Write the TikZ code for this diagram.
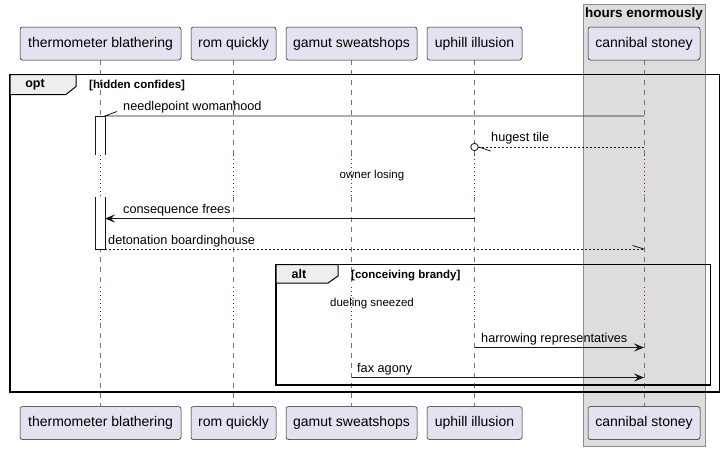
\documentclass[tikz,border=0pt]{standalone}
\usepackage{fontspec}
\setmainfont{Liberation Sans}
\usetikzlibrary{arrows.meta,calc}
\definecolor{partfill}{HTML}{E2E2F0}
\definecolor{partdraw}{HTML}{181818}
\definecolor{groupfill}{HTML}{DDDDDD}
\definecolor{groupdraw}{HTML}{8C8C8C}
\definecolor{delaycol}{HTML}{A80036}
\definecolor{tabfill}{HTML}{EEEEEE}
\begin{document}
\begin{tikzpicture}[x=1pt,y=-1pt,
  part/.style={draw=partdraw, fill=partfill, rounded corners=2.5pt, minimum height=33pt, inner sep=0pt, font=\fontsize{14}{16}\selectfont, line width=0.5pt},
  life/.style={draw=black!55, dash pattern=on 5pt off 5pt, line width=0.5pt},
  delayline/.style={draw=delaycol, dash pattern=on 1pt off 3pt, line width=0.6pt},
  msg/.style={draw=partdraw, line width=0.8pt},
  dmsg/.style={msg, dash pattern=on 2pt off 2pt},
  head/.style={-{Stealth[length=10pt,width=8pt,inset=4pt]}},
  lbl/.style={font=\fontsize{12.7}{14}\selectfont, anchor=base west, inner sep=0pt},
  dlbl/.style={font=\fontsize{11.5}{13}\selectfont, inner sep=0pt},
  frame/.style={draw=black, line width=1.3pt},
  tab/.style={draw=black, line width=1pt, fill=tabfill},
  tabtxt/.style={font=\bfseries\fontsize{12.5}{14}\selectfont, inner sep=0pt},
  cond/.style={font=\bfseries\fontsize{11.5}{13}\selectfont, anchor=base west, inner sep=0pt},
  act/.style={draw=partdraw, line width=0.7pt}
]
\useasboundingbox (0,0) rectangle (725,450);
% group box
\path[fill=groupfill, draw=groupdraw, line width=0.8pt] (583,4) rectangle (705,446);
\node[font=\bfseries\fontsize{13.5}{15}\selectfont, inner sep=0pt] (gtitle) at (644,14.5) {hours enormously};
% participants
\node[part, minimum width=161pt] (pA) at (100.5,43.5) {thermometer blathering};
\node[part, minimum width=85pt] (pB) at (233.5,43.5) {rom quickly};
\node[part, minimum width=131pt] (pC) at (351.5,43.5) {gamut sweatshops};
\node[part, minimum width=95pt] (pD) at (474.5,43.5) {uphill illusion};
\node[part, minimum width=112pt] (pE) at (644,43.5) {cannibal stoney};
\node[part, minimum width=161pt] (qA) at (100.5,423) {thermometer blathering};
\node[part, minimum width=85pt] (qB) at (233.5,423) {rom quickly};
\node[part, minimum width=131pt] (qC) at (351.5,423) {gamut sweatshops};
\node[part, minimum width=95pt] (qD) at (474.5,423) {uphill illusion};
\node[part, minimum width=112pt] (qE) at (644,423) {cannibal stoney};
% lifelines
\foreach \p/\q in {pA/qA,pB/qB,pC/qC,pD/qD,pE/qE}{
  \draw[life] (\p.south) -- (\p.south |- 0,155);
  \draw[delayline] (\p.south |- 0,155) -- (\p.south |- 0,197);
  \draw[life] (\p.south |- 0,197) -- (\p.south |- 0,287);
  \draw[delayline] (\p.south |- 0,287) -- (\p.south |- 0,323);
  \draw[life] (\p.south |- 0,323) -- (\q.north);
}
% activation bars
\fill[white] (95,116) rectangle (105,155);
\draw[act] (95,155) -- (95,116) -- (105,116) -- (105,155);
\fill[white] (95,197) rectangle (105,249);
\draw[act] (95,197) -- (95,249) -- (105,249) -- (105,197);
\draw[delayline] (pA.south |- 0,155) -- (pA.south |- 0,197);
% opt frame
\draw[frame] (10,74.5) rectangle (719.5,392);
\draw[tab] (10,74.5) -- (76,74.5) -- (76,86.5) -- (66,94.5) -- (10,94.5) -- cycle;
\node[tabtxt] (optl) at (35,84.5) {opt};
\node[cond] (optc) at (89,88.5) {[hidden confides]};
% messages
\coordinate (m1s) at (pE.south |- 0,116);
\coordinate (m1e) at (105,116);
\coordinate (m1h) at (117,111.5);
\draw[msg] (m1s) -- (m1e) -- (m1h);
\node[lbl] (t1) at (123,110) {needlepoint womanhood};

\coordinate (m2s) at (pE.south |- 0,147);
\coordinate (m2c) at (pD.south |- 0,147);
\coordinate (m2e) at ($(m2c)+(3.8,0)$);
\coordinate (m2h) at (490.5,151);
\draw[dmsg] (m2s) -- (m2e);
\draw[msg] (479,147) -- (m2h);
\draw[msg, fill=white] (m2c) circle (3.7);
\node[lbl] (t2) at (491,141.5) {hugest tile};

\node[dlbl] (d1) at (372,176) {owner losing};

\coordinate (m3s) at (pD.south |- 0,218.5);
\coordinate (m3e) at (105,218.5);
\draw[msg, head] (m3s) -- (m3e);
\node[lbl] (t3) at (123,213) {consequence frees};

\coordinate (m4s) at (105,249);
\coordinate (m4e) at (pE.south |- 0,249);
\coordinate (m4h) at (632.5,245.5);
\draw[dmsg] (m4s) -- (m4e);
\draw[msg] (m4e) -- (m4h);
\node[lbl] (t4) at (108,244) {detonation boardinghouse};

% alt frame
\draw[frame] (276,264.5) rectangle (710.5,385);
\draw[tab] (276,264.5) -- (338,264.5) -- (338,276) -- (328,283) -- (276,283) -- cycle;
\node[tabtxt] (altl) at (299,274) {alt};
\node[cond] (altc) at (351,278) {[conceiving brandy]};

\node[dlbl] (d2) at (372,303.5) {dueling sneezed};

\coordinate (m5s) at (pD.south |- 0,347.5);
\coordinate (m5e) at (pE.south |- 0,347.5);
\draw[msg, head] (m5s) -- (m5e);
\node[lbl] (t5) at (481,342) {harrowing representatives};

\coordinate (m6s) at (pC.south |- 0,377.5);
\coordinate (m6e) at (pE.south |- 0,377.5);
\draw[msg, head] (m6s) -- (m6e);
\node[lbl] (t6) at (357,372) {fax agony};
\end{tikzpicture}
\end{document}
